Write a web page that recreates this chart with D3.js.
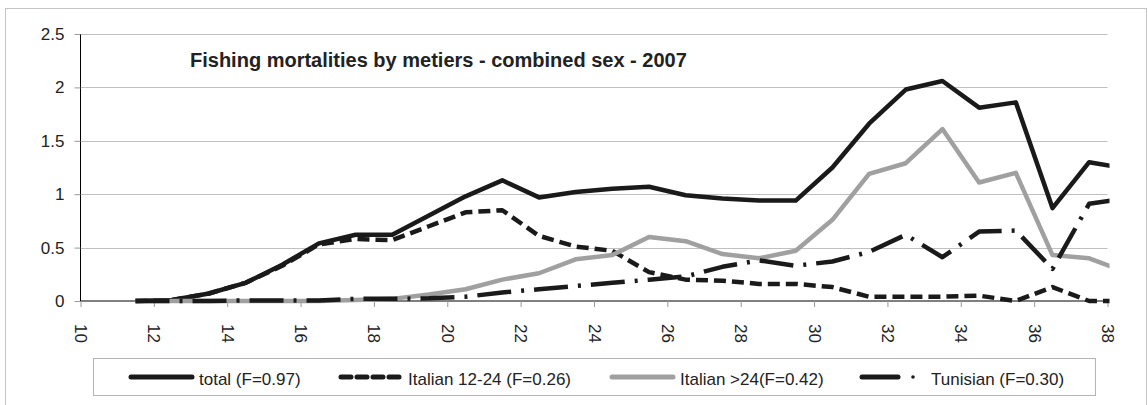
<!DOCTYPE html>
<html>
<head>
<meta charset="utf-8">
<script src="https://cdn.jsdelivr.net/npm/d3@7"></script>
<style>
  html, body { margin: 0; padding: 0; background: #fff; }
  svg { display: block; font-family: "Liberation Sans", Arial, sans-serif; }
</style>
</head>
<body>
<svg id="chart" width="1148" height="405"></svg>
<script>
const titleText = "Fishing mortalities by metiers - combined sex - 2007";
const ages = [11.5, 12.5, 13.5, 14.5, 15.5, 16.5, 17.5, 18.5, 19.5, 20.5, 21.5, 22.5, 23.5, 24.5,
              25.5, 26.5, 27.5, 28.5, 29.5, 30.5, 31.5, 32.5, 33.5, 34.5, 35.5, 36.5, 37.5, 38.5];
const totalF = [0, 0.01, 0.07, 0.17, 0.34, 0.54, 0.62, 0.62, 0.80, 0.98, 1.13, 0.97, 1.02, 1.05,
                1.07, 0.99, 0.96, 0.94, 0.94, 1.25, 1.66, 1.98, 2.06, 1.81, 1.86, 0.87, 1.30, 1.24];
const ital1224F = [0, 0.01, 0.07, 0.17, 0.33, 0.53, 0.58, 0.57, 0.70, 0.83, 0.85, 0.61, 0.51, 0.47,
                   0.27, 0.20, 0.19, 0.16, 0.16, 0.13, 0.04, 0.04, 0.04, 0.05, 0.00, 0.13, 0.00, 0.00];
const ital24F = [0, 0, 0, 0, 0, 0, 0.01, 0.02, 0.06, 0.11, 0.20, 0.26, 0.39, 0.43,
                 0.60, 0.56, 0.44, 0.40, 0.47, 0.76, 1.19, 1.29, 1.61, 1.11, 1.20, 0.43, 0.40, 0.27];
const tunisF = [0, 0, 0, 0.005, 0.005, 0.005, 0.02, 0.02, 0.025, 0.04, 0.08, 0.11, 0.14, 0.17,
                0.20, 0.23, 0.32, 0.38, 0.33, 0.37, 0.46, 0.62, 0.41, 0.65, 0.66, 0.30, 0.91, 0.96];
const seriesNames = ["total (F=0.97)", "Italian 12-24 (F=0.26)", "Italian >24(F=0.42)", "Tunisian (F=0.30)"];
const xTicks = [10, 12, 14, 16, 18, 20, 22, 24, 26, 28, 30, 32, 34, 36, 38];
const yTicks = [0, 0.5, 1, 1.5, 2, 2.5];
const yTickLabels = ["0", "0.5", "1", "1.5", "2", "2.5"];

const svg = d3.select("#chart");
const plot = { left: 80.5, right: 1107.5, top: 34, bottom: 301 };

const x = d3.scaleLinear().domain([10, 38]).range([plot.left, plot.right]);
const y = d3.scaleLinear().domain([0, 2.5]).range([plot.bottom, plot.top]);

// outer border
svg.append("rect")
  .attr("x", 5.5).attr("y", 8.5).attr("width", 1141).attr("height", 400)
  .attr("fill", "none").attr("stroke", "#c4c4c4").attr("stroke-width", 1);

// gridlines
svg.append("g").selectAll("line").data(yTicks.filter(d => d > 0)).join("line")
  .attr("x1", plot.left).attr("x2", plot.right)
  .attr("y1", d => Math.round(y(d)) + 0.5).attr("y2", d => Math.round(y(d)) + 0.5)
  .attr("stroke", "#c0c0c0").attr("stroke-width", 1);

// y axis
const yAxis = svg.append("g").attr("transform", `translate(${plot.left},0)`)
  .call(d3.axisLeft(y).tickValues(yTicks).tickSize(6).tickPadding(10)
    .tickFormat((d, i) => yTickLabels[i]));
yAxis.select(".domain").attr("stroke", "#000").attr("d", `M0,${plot.top}V${plot.bottom}`);
yAxis.selectAll(".tick line").attr("stroke", "#999");
yAxis.selectAll(".tick text").attr("font-size", 17).attr("fill", "#222")
  .attr("font-family", "'Liberation Sans', Arial, sans-serif");

// x axis
const xAxis = svg.append("g").attr("transform", `translate(0,${plot.bottom})`)
  .call(d3.axisBottom(x).tickValues(xTicks).tickSize(6).tickFormat(d3.format("d")));
xAxis.select(".domain").attr("stroke", "#000").attr("d", `M${plot.left},0H${plot.right}`);
xAxis.selectAll(".tick line").attr("stroke", "#999");
xAxis.selectAll(".tick text")
  .attr("font-size", 17).attr("fill", "#222")
  .attr("font-family", "'Liberation Sans', Arial, sans-serif")
  .attr("text-anchor", "start")
  .attr("transform", "rotate(90)")
  .attr("x", 23).attr("y", 0).attr("dy", "0.35em");

// clip
svg.append("clipPath").attr("id", "clip").append("rect")
  .attr("x", plot.left - 5).attr("y", 0).attr("width", plot.right - plot.left + 7).attr("height", 405);

const line = d3.line().x(d => x(d[0])).y(d => y(d[1]));
const styles = [
  { vals: totalF, stroke: "#1a1a1a", width: 4.5, dash: null },
  { vals: ital1224F, stroke: "#1a1a1a", width: 4.5, dash: "12,6" },
  { vals: ital24F, stroke: "#a0a0a0", width: 4.5, dash: null },
  { vals: tunisF, stroke: "#1a1a1a", width: 4.5, dash: "34,10,3,10" }
];
const lines = svg.append("g").attr("clip-path", "url(#clip)");
styles.forEach(s => {
  lines.append("path")
    .datum(ages.map((a, i) => [a, s.vals[i]]))
    .attr("d", line)
    .attr("fill", "none")
    .attr("stroke", s.stroke)
    .attr("stroke-width", s.width)
    .attr("stroke-linejoin", "round")
    .attr("stroke-dasharray", s.dash);
});

// title
svg.append("text").attr("x", 190).attr("y", 67)
  .attr("font-size", 20).attr("font-weight", "bold").attr("fill", "#222")
  .text(titleText);

// legend
const lg = svg.append("g");
lg.append("rect").attr("x", 93.5).attr("y", 358.5).attr("width", 1002).attr("height", 37)
  .attr("fill", "#fff").attr("stroke", "#b4b4b4");
const legendItems = [
  { x1: 131, x2: 192, tx: 199 },
  { x1: 341, x2: 401, tx: 408 },
  { x1: 612, x2: 673, tx: 680 },
  { x1: 862, x2: 898, tx: 931 }
];
const ly = 377;
legendItems.forEach((it, i) => {
  const s = styles[i];
  lg.append("line").attr("x1", it.x1).attr("x2", it.x2).attr("y1", ly).attr("y2", ly)
    .attr("stroke", s.stroke).attr("stroke-width", 5)
    .attr("stroke-linecap", "round")
    .attr("stroke-dasharray", i === 1 ? "10,6" : null);
  if (i === 3) {
    lg.append("circle").attr("cx", 913).attr("cy", ly).attr("r", 1.8).attr("fill", "#1a1a1a");
  }
  lg.append("text").attr("x", it.tx).attr("y", 385)
    .attr("font-size", 17).attr("fill", "#222").text(seriesNames[i]);
});
</script>
</body>
</html>
